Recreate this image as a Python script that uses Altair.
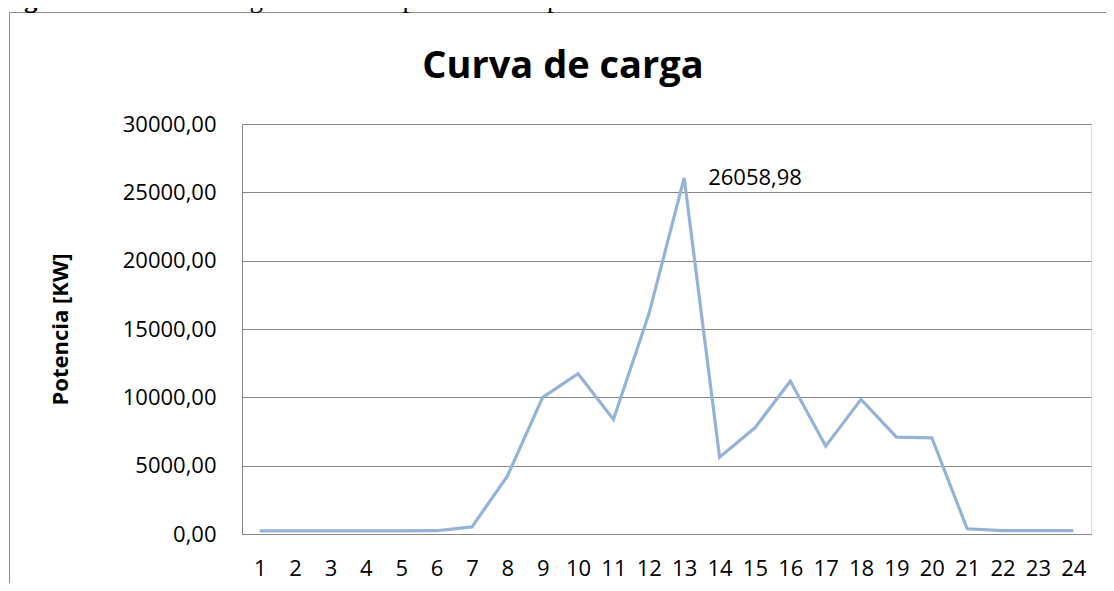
import altair as alt
import pandas as pd

# ---------------- data ----------------
hours = ["1", "2", "3", "4", "5", "6", "7", "8", "9", "10", "11", "12",
         "13", "14", "15", "16", "17", "18", "19", "20", "21", "22", "23", "24"]
power = [230, 230, 230, 230, 230, 240, 520, 4230, 10000, 11730, 8380, 16070,
         26058.98, 5620, 7770, 11190, 6430, 9850, 7090, 7040, 380, 240, 240, 240]
y_ticks = [0, 5000, 10000, 15000, 20000, 25000, 30000]
peak_hour = ["13"]
peak_value = [26058.98]

chart_title = ["Curva de carga"]
y_title = "Potencia [KW]"
caption_bold = ["Figura 7."]
caption_rest = ["Curva de carga de un día típico de la empresa SERVINPET."]

# ---------------- style ----------------
FONT = "Open Sans"
SERIF = "Liberation Serif"
GRID = "#868686"
LINE = "#95B3D7"
W, H = 849, 410
PAD = {"left": 234, "top": 116, "right": 15, "bottom": 49}

df = pd.DataFrame({"hora": hours, "potencia": power})
peak = pd.DataFrame({"hora": peak_hour, "potencia": peak_value})
one = pd.DataFrame({"k": [0]})

x_enc = alt.X(
    "hora:O",
    sort=hours,
    title=None,
    scale=alt.Scale(type="point", domain=hours, padding=0.5),
    axis=alt.Axis(
        labelAngle=0, labelFont=FONT, labelFontSize=22, labelColor="black",
        labelPadding=24, ticks=False, tickSize=0, domainColor=GRID,
        domainWidth=1, grid=False,
    ),
)
y_enc = alt.Y(
    "potencia:Q",
    scale=alt.Scale(domain=[0, 30000], nice=False, zero=True),
    axis=alt.Axis(
        values=y_ticks,
        labelExpr="replace(format(datum.value, '.2f'), '.', ',')",
        labelFont=FONT, labelFontSize=22, labelColor="black",
        labelPadding=26, ticks=False, tickSize=0,
        domainColor=GRID, domainWidth=1,
        grid=True, gridColor=GRID, gridWidth=1,
        title=y_title, titleFont=FONT, titleFontSize=22, titleFontWeight="bold",
        titleColor="black", titleAngle=-90, titleX=-175, titleY=H / 2,
        titleAlign="center", titleBaseline="alphabetic",
    ),
)

line = alt.Chart(df).mark_line(color=LINE, strokeWidth=3.2).encode(x=x_enc, y=y_enc)

label = alt.Chart(peak).transform_calculate(
    lbl="replace(format(datum.potencia, '.2f'), '.', ',')"
).mark_text(
    align="left", baseline="middle", dx=24, font=FONT, fontSize=22, color="black"
).encode(x=alt.X("hora:O", sort=hours), y=alt.Y("potencia:Q"), text="lbl:N")

# outer chart-area frame (only its top and left edges are inside the window)
frame_top = alt.Chart(one).mark_rule(color="#8c8c8c", strokeWidth=1).encode(
    x=alt.value(-232.5), x2=alt.value(W + PAD["right"]), y=alt.value(-111.5)
)
frame_left = alt.Chart(one).mark_rule(color="#8c8c8c", strokeWidth=1).encode(
    x=alt.value(-232.5), y=alt.value(-111.5), y2=alt.value(H + PAD["bottom"])
)

title = alt.Chart(pd.DataFrame({"t": chart_title})).mark_text(
    font=FONT, fontSize=38, fontWeight="bold", align="center",
    baseline="alphabetic", color="black"
).encode(x=alt.value(321), y=alt.value(-46), text="t:N")

cap1 = alt.Chart(pd.DataFrame({"t": caption_bold})).mark_text(
    font=SERIF, fontSize=27, fontWeight="bold", align="left",
    baseline="alphabetic", color="black"
).encode(x=alt.value(-242), y=alt.value(-117.3), text="t:N")

cap2 = alt.Chart(pd.DataFrame({"t": caption_rest})).mark_text(
    font=SERIF, fontSize=27, align="left", baseline="alphabetic", color="black"
).encode(x=alt.value(-130), y=alt.value(-117.3), text="t:N")

chart = alt.layer(frame_top, frame_left, cap1, cap2, title, line, label).properties(
    width=W, height=H,
    autosize=alt.AutoSizeParams(type="none"),
    padding=PAD,
).configure_view(stroke=None).configure(background="white")

chart.save("out.html", embed_options={"renderer": "svg", "actions": False})
